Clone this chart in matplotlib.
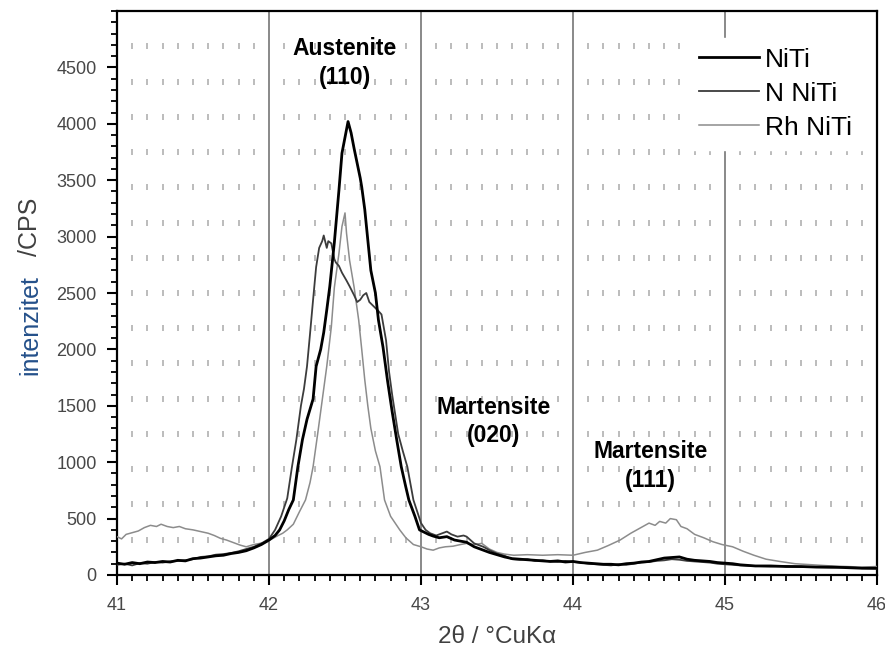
import matplotlib
matplotlib.use("Agg")
import matplotlib.pyplot as plt
import numpy as np

plt.rcParams['font.family'] = ['Liberation Sans', 'DejaVu Sans']

# --- podaci (ocitano sa slike) ---
niti_x = [41.00, 41.05, 41.10, 41.15, 41.20, 41.25, 41.30, 41.35, 41.40, 41.45,
          41.50, 41.55, 41.60, 41.65, 41.70, 41.75, 41.80, 41.85, 41.90, 41.95,
          42.00, 42.04, 42.07, 42.10, 42.13, 42.16, 42.19, 42.22, 42.25, 42.29,
          42.31, 42.34, 42.36, 42.38, 42.40, 42.43, 42.46, 42.48, 42.50, 42.52,
          42.54, 42.56, 42.58, 42.60, 42.61, 42.63, 42.65, 42.67, 42.70, 42.72,
          42.75, 42.78, 42.81, 42.84, 42.87, 42.90, 42.92, 42.96, 42.99, 43.02,
          43.05, 43.08, 43.12, 43.17, 43.22, 43.26, 43.30, 43.35, 43.41, 43.45,
          43.50, 43.55, 43.60, 43.65, 43.70, 43.75, 43.80, 43.85, 43.90, 43.95,
          44.00, 44.05, 44.10, 44.15, 44.20, 44.25, 44.30, 44.35, 44.40, 44.45,
          44.50, 44.55, 44.60, 44.65, 44.70, 44.75, 44.80, 44.85, 44.90, 44.95,
          45.00, 45.05, 45.10, 45.15, 45.20, 45.30, 45.40, 45.50, 45.60, 45.70,
          45.80, 45.90, 46.00]
niti_y = [105, 95, 110, 100, 115, 110, 120, 115, 130, 125,
          145, 150, 160, 170, 175, 190, 200, 215, 240, 270,
          310, 350, 400, 480, 580, 665, 960, 1200, 1380, 1560,
          1850, 2000, 2150, 2350, 2560, 2950, 3410, 3740, 3880, 4020,
          3920, 3780, 3650, 3520, 3440, 3240, 2970, 2700, 2500, 2260,
          2020, 1720, 1450, 1200, 960, 780, 665, 520, 400, 380,
          360, 345, 330, 340, 310, 300, 290, 250, 220, 200,
          180, 160, 145, 140, 135, 130, 125, 120, 125, 115,
          120, 110, 105, 100, 95, 95, 90, 100, 105, 115,
          120, 135, 150, 155, 160, 140, 130, 125, 120, 110,
          105, 100, 90, 85, 80, 80, 75, 75, 70, 70,
          65, 60, 60]

nniti_x = [41.00, 41.05, 41.10, 41.15, 41.20, 41.25, 41.30, 41.35, 41.40, 41.45,
           41.50, 41.55, 41.60, 41.65, 41.70, 41.75, 41.80, 41.85, 41.90, 41.95,
           42.00, 42.04, 42.08, 42.12, 42.15, 42.18, 42.21, 42.23, 42.25, 42.27,
           42.29, 42.31, 42.33, 42.35, 42.36, 42.38, 42.39, 42.41, 42.43, 42.44,
           42.46, 42.48, 42.51, 42.53, 42.56, 42.58, 42.60, 42.62, 42.64, 42.66,
           42.69, 42.72, 42.74, 42.77, 42.79, 42.81, 42.85, 42.88, 42.91, 42.95,
           43.00, 43.03, 43.06, 43.10, 43.14, 43.17, 43.20, 43.24, 43.28, 43.30,
           43.35, 43.41, 43.45, 43.50, 43.55, 43.60, 43.65, 43.70, 43.75, 43.80,
           43.85, 43.90, 43.95, 44.00, 44.05, 44.10, 44.15, 44.20, 44.25, 44.30,
           44.35, 44.40, 44.45, 44.50, 44.55, 44.60, 44.65, 44.70, 44.75, 44.80,
           44.85, 44.90, 44.95, 45.00, 45.05, 45.10, 45.20, 45.30, 45.40, 45.50,
           45.60, 45.70, 45.80, 45.90, 46.00]
nniti_y = [90, 100, 85, 105, 100, 115, 110, 120, 125, 130,
           140, 160, 165, 180, 185, 195, 210, 230, 250, 280,
           320, 400, 520, 680, 950, 1200, 1500, 1650, 1850, 2140,
           2440, 2730, 2900, 2960, 3010, 2900, 2960, 2940, 2800, 2770,
           2740, 2680, 2610, 2560, 2480, 2420, 2440, 2480, 2500, 2420,
           2380, 2340, 2310, 2080, 1800, 1600, 1250, 1100, 960, 665,
           460, 400, 370, 350, 370, 385, 360, 340, 350, 340,
           280, 250, 220, 190, 170, 140, 135, 140, 125, 130,
           120, 115, 125, 115, 110, 100, 95, 90, 85, 95,
           90, 100, 110, 115, 125, 130, 140, 135, 125, 120,
           115, 110, 100, 95, 90, 85, 80, 75, 80, 70,
           70, 65, 70, 60, 55]

rhniti_x = [41.00, 41.03, 41.06, 41.10, 41.14, 41.18, 41.22, 41.26, 41.29, 41.33,
            41.37, 41.41, 41.45, 41.50, 41.55, 41.60, 41.64, 41.68, 41.72, 41.76,
            41.81, 41.85, 41.90, 41.94, 41.98, 42.02, 42.06, 42.09, 42.12, 42.16,
            42.20, 42.24, 42.27, 42.29, 42.32, 42.35, 42.38, 42.41, 42.43, 42.46,
            42.48, 42.50, 42.51, 42.53, 42.56, 42.59, 42.61, 42.63, 42.65, 42.67,
            42.70, 42.73, 42.76, 42.80, 42.86, 42.90, 42.95, 43.00, 43.04, 43.08,
            43.12, 43.16, 43.21, 43.26, 43.30, 43.35, 43.40, 43.45, 43.50, 43.55,
            43.61, 43.70, 43.80, 43.90, 44.00, 44.08, 44.16, 44.23, 44.31, 44.38,
            44.46, 44.50, 44.54, 44.57, 44.61, 44.64, 44.68, 44.71, 44.75, 44.80,
            44.86, 44.92, 44.98, 45.05, 45.12, 45.19, 45.27, 45.36, 45.46, 45.58,
            45.70, 45.80, 45.90, 46.00]
rhniti_y = [340, 320, 360, 375, 390, 420, 440, 430, 450, 430,
            420, 430, 410, 400, 385, 370, 350, 325, 310, 290,
            265, 250, 270, 280, 290, 320, 350, 370, 400, 450,
            560, 665, 820, 960, 1250, 1550, 1850, 2200, 2550, 2850,
            3090, 3210, 3030, 2790, 2550, 2260, 2000, 1730, 1500, 1300,
            1100, 960, 665, 520, 400, 330, 270, 250, 230, 220,
            240, 250, 255, 270, 280, 270, 280, 230, 200, 185,
            175, 180, 175, 180, 175, 200, 220, 260, 310, 370,
            430, 460, 440, 475, 460, 500, 490, 430, 410, 360,
            330, 295, 270, 250, 210, 175, 140, 120, 100, 90,
            80, 75, 70, 75]

names = ["NiTi", "N NiTi", "Rh NiTi"]
peak_labels = ["Austenite\n(110)", "Martensite\n(020)", "Martensite\n(111)"]
peak_pos = [(42.50, 4540), (43.48, 1360), (44.51, 965)]

fig = plt.figure(figsize=(8.85, 6.56), dpi=100)
ax = fig.add_axes([0.1322, 0.1235, 0.8588, 0.8597])

# tackasta mreza (kratke crtice)
gx = [v for v in np.arange(41.1, 46.0, 0.1) if abs(v - round(v)) > 0.01]
for gy in np.arange(312.5, 5000, 312.5):
    ax.plot(gx, [gy] * len(gx), ls='none', marker='|', ms=4, mew=1.4,
            color='#bcbcbc', zorder=1)
for v in [42, 43, 44, 45]:
    ax.axvline(v, color='#808080', lw=1.3, zorder=1)

ax.plot(rhniti_x, rhniti_y, color='#8c8c8c', lw=1.1, label=names[2], zorder=3)
ax.plot(nniti_x, nniti_y, color='#3c3c3c', lw=1.3, label=names[1], zorder=4)
ax.plot(niti_x, niti_y, color='black', lw=2.0, label=names[0], zorder=5)

for txt, (px, py) in zip(peak_labels, peak_pos):
    ax.text(px, py, txt, ha='center', va='center', fontsize=16.5,
            fontweight='bold', linespacing=1.3, zorder=6)

h, l = ax.get_legend_handles_labels()
leg = ax.legend(h[::-1], l[::-1], loc='upper left', bbox_to_anchor=(0.753, 0.953),
                borderaxespad=0, fontsize=19, frameon=True, fancybox=False,
                edgecolor='white', facecolor='white', framealpha=1,
                handlelength=2.25, handletextpad=0.25, labelspacing=0.38,
                borderpad=0.38)
leg.set_zorder(7)

ax.set_xlim(41, 46)
ax.set_ylim(0, 5000)
ax.set_xticks([41, 42, 43, 44, 45, 46])
ax.set_xticks(np.arange(41, 46.01, 0.1), minor=True)
ax.set_yticks(np.arange(0, 4501, 500))
ax.set_yticks(np.arange(0, 5001, 100), minor=True)
ax.tick_params(which='major', direction='out', length=7.5, width=1.5,
               labelsize=13, labelcolor='#474747', pad=7)
ax.tick_params(axis='x', which='major', pad=8)
ax.tick_params(which='minor', direction='out', length=4.5, width=1.3)
for s in ax.spines.values():
    s.set_linewidth(1.6)
    s.set_color('black')

ax.set_xlabel("2θ / °CuKα", fontsize=17.5, color='#404040', labelpad=9)
fig.text(0.034, 0.505, "intenzitet", rotation=90, ha='center', va='center',
         fontsize=18, color='#24508a')
fig.text(0.034, 0.655, "/CPS", rotation=90, ha='center', va='center',
         fontsize=18, color='#404040')

fig.savefig("out.png", dpi=100)
